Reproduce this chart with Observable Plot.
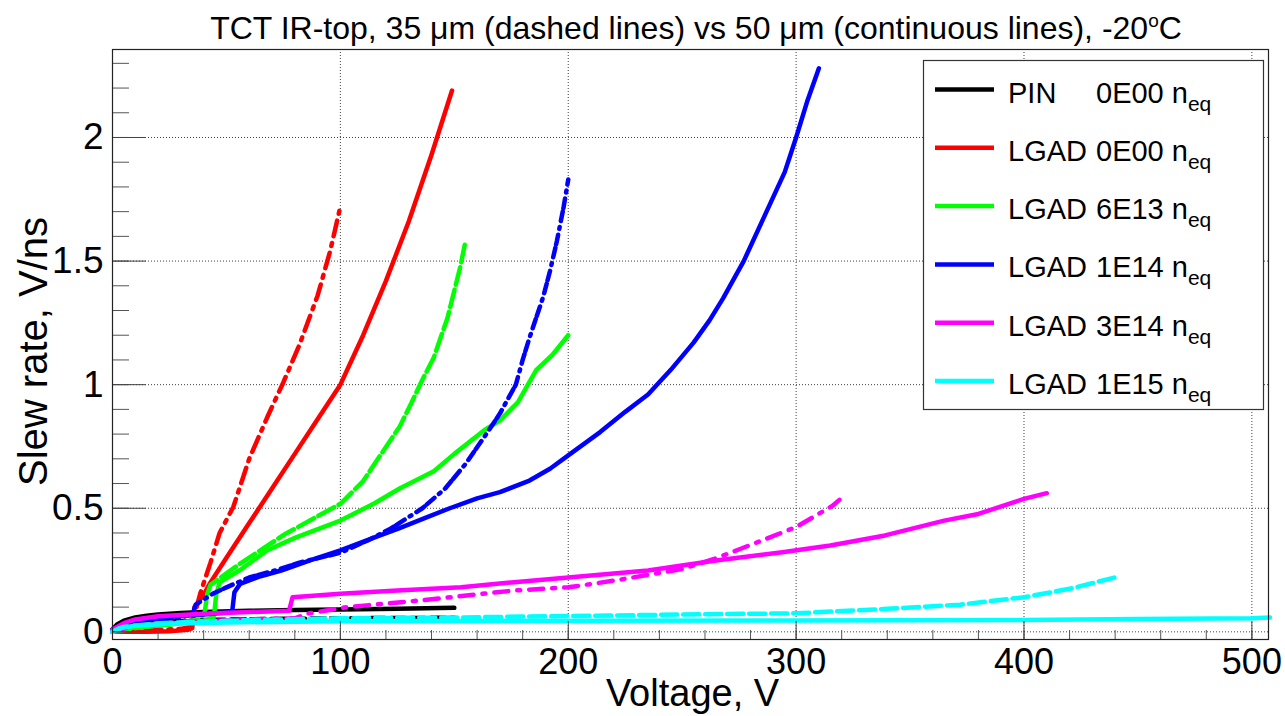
<!DOCTYPE html>
<html><head><meta charset="utf-8">
<script src="https://cdn.jsdelivr.net/npm/d3@7"></script>
<script src="https://cdn.jsdelivr.net/npm/@observablehq/plot@0.6"></script>
<style>
body{margin:0;background:#fff;}
#wrap{position:relative;width:1285px;height:716px;font-family:"Liberation Sans",Arial,Helvetica,sans-serif;}
#title{position:absolute;left:118px;width:1156px;top:3px;line-height:36px;text-align:center;font-size:32px;color:#000;white-space:nowrap;}
#title sup{font-size:19px;}
#legend{position:absolute;left:0;top:0;pointer-events:none;}
</style></head><body>
<div id="wrap"><div id="title">TCT IR-top, 35 μm (dashed lines) vs 50 μm (continuous lines), -20<sup>o</sup>C</div></div>
<script>
// ---------------- data (V, slew rate V/ns) ----------------
const pin50 = [[0,0.01],[2,0.03],[5,0.045],[10,0.058],[15,0.065],[20,0.07],[30,0.076],[40,0.08],[60,0.085],[80,0.088],[100,0.09],[125,0.093],[150,0.097]];
const pin35 = [[0,0],[5,0.02],[10,0.03],[20,0.04],[40,0.048],[70,0.052],[100,0.055],[150,0.057]];
const lgad0_50 = [[0,0.003],[5,0.0],[15,0.0],[25,0.002],[33,0.008],[35,0.015],[36,0.1],[40,0.15],[43,0.2],[50,0.3],[60,0.44],[70,0.58],[80,0.72],[90,0.86],[100,1.0],[110,1.2],[120,1.42],[130,1.66],[140,1.93],[149,2.19]];
const lgad0_35 = [[0,0],[10,0.005],[20,0.008],[30,0.012],[34,0.02],[35.5,0.05],[38.5,0.155],[43,0.28],[47,0.4],[53,0.505],[60,0.7],[68,0.87],[75,1.01],[82,1.16],[90,1.36],[95.5,1.54],[100,1.72]];
const lgad6e13_50 = [[0,0.005],[10,0.02],[25,0.03],[40,0.045],[44.5,0.06],[45.5,0.15],[47,0.2],[56,0.25],[68,0.33],[80,0.38],[100,0.45],[115,0.52],[126,0.58],[141,0.65],[150,0.72],[163,0.815],[170,0.855],[178,0.93],[186,1.06],[193,1.12],[200,1.2]];
const lgad6e13_35 = [[0,0],[10,0.015],[25,0.03],[38,0.05],[40.5,0.08],[41.5,0.15],[43,0.19],[56,0.276],[76,0.397],[100,0.518],[110,0.61],[117,0.707],[126,0.83],[131,0.923],[136,1.02],[141,1.11],[147,1.27],[152.6,1.476],[155,1.585]];
const lgad1e14_50 = [[0,0.01],[5,0.03],[10,0.04],[20,0.055],[30,0.065],[40,0.07],[52.5,0.08],[53.5,0.16],[56,0.194],[65,0.225],[74,0.248],[87,0.29],[100,0.33],[113,0.375],[126,0.42],[137,0.46],[148,0.5],[160,0.54],[170,0.565],[183,0.612],[192,0.66],[200,0.714],[214,0.808],[225,0.89],[235,0.96],[245,1.06],[255,1.17],[262,1.26],[268,1.35],[277,1.5],[286,1.68],[295,1.86],[300,2.0],[305,2.15],[310,2.28]];
const lgad1e14_35 = [[0,0.005],[10,0.03],[20,0.045],[30,0.06],[35,0.07],[36.5,0.11],[44,0.154],[50,0.18],[60,0.22],[72,0.25],[82,0.28],[100,0.32],[112,0.37],[122,0.417],[136,0.5],[146,0.58],[155,0.68],[164,0.8],[170,0.883],[177,1.0],[180,1.1],[183,1.19],[189,1.355],[192,1.46],[195,1.58],[198,1.72],[200,1.83]];
const lgad3e14_50 = [[0,0.01],[5,0.035],[10,0.05],[20,0.063],[40,0.073],[60,0.08],[77.5,0.085],[79,0.14],[100,0.154],[125,0.167],[153,0.18],[175,0.2],[200,0.22],[235,0.248],[264,0.288],[294,0.322],[315,0.349],[339,0.39],[365,0.45],[380,0.477],[400,0.538],[410,0.561]];
const lgad3e14_35 = [[0,0],[10,0.025],[30,0.04],[60,0.05],[80,0.055],[83,0.065],[85,0.073],[103,0.1],[135,0.127],[176,0.167],[200,0.18],[220,0.207],[250,0.254],[264,0.295],[274,0.33],[300,0.424],[316,0.51],[319,0.534]];
const lgad1e15_50 = [[0,0],[3,0.015],[10,0.025],[25,0.033],[50,0.038],[100,0.043],[200,0.045],[300,0.046],[400,0.048],[450,0.052],[500,0.055],[508,0.058]];
const lgad1e15_35 = [[0,0],[5,0.02],[20,0.035],[50,0.045],[100,0.055],[150,0.058],[200,0.064],[250,0.07],[300,0.075],[340,0.093],[372,0.11],[400,0.14],[420,0.174],[440,0.22]];

const seriesColors = ["#000000","#ff0000","#00ff00","#0000ff","#ff00ff","#00ffff"];
const legendNames = ["PIN","LGAD","LGAD","LGAD","LGAD","LGAD"];
const legendFluence = ["0E00","0E00","6E13","1E14","3E14","1E15"];
const solidSeries = [pin50, lgad0_50, lgad6e13_50, lgad1e14_50, lgad3e14_50, lgad1e15_50];
const dashedSeries = [pin35, lgad0_35, lgad6e13_35, lgad1e14_35, lgad3e14_35, lgad1e15_35];
const dashPatterns = ["14,6","16,7,3,7","18,5","10,3,10,6,2,6","14,9,3,9","16,6"];

const xMajor = [0,100,200,300,400,500];
const xMinor = d3.range(0, 508, 20);
const yMajor = [0,0.5,1,1.5,2];
const yMinor = d3.range(0, 2.35, 0.1);

const xLabel = "Voltage, V";
const yLabel = "Slew rate, V/ns";

// ---------------- plot ----------------
const lineMarks = [];
seriesColors.forEach((c, i) => {
  lineMarks.push(Plot.line(solidSeries[i], {x: d => d[0], y: d => d[1], stroke: c, strokeWidth: 4.5}));
  lineMarks.push(Plot.line(dashedSeries[i], {x: d => d[0], y: d => d[1], stroke: c, strokeWidth: 4.5, strokeDasharray: dashPatterns[i]}));
});

const gridStyle = {stroke: "#000", strokeOpacity: 0.75, strokeDasharray: "1,2", strokeWidth: 1};
const plot = Plot.plot({
  width: 1285, height: 716,
  marginLeft: 112, marginRight: 17, marginTop: 49, marginBottom: 77,
  x: {domain: [0, 507.3]},
  y: {domain: [-0.031, 2.356]},
  style: {fontFamily: '"Liberation Sans", Arial, Helvetica, sans-serif', background: "transparent", color: "#000"},
  marks: [
    Plot.gridX(xMajor.slice(1), gridStyle),
    Plot.gridY(yMajor, gridStyle),
    ...lineMarks,
    Plot.axisX({ticks: xMinor, tickSize: -9, text: null, label: null, stroke: "#555"}),
    Plot.axisX({ticks: xMajor, tickSize: -18, text: null, label: null, stroke: "#444"}),
    Plot.axisX({ticks: xMajor, tickSize: 0, tickPadding: 9, fontSize: 36, label: null, tickFormat: d => String(d)}),
    Plot.axisY({ticks: yMinor, tickSize: -17, text: null, label: null, stroke: "#555"}),
    Plot.axisY({ticks: yMajor, tickSize: 0, tickPadding: 9, fontSize: 37, label: null, tickFormat: d => String(d)}),
    Plot.axisY({ticks: yMajor, tickSize: -34, text: null, label: null, stroke: "#444"}),
    Plot.text([xLabel], {frameAnchor: "bottom", lineAnchor: "middle", textAnchor: "middle", dy: 54, dx: 2, fontSize: 38, text: d => d}),
    Plot.text([yLabel], {frameAnchor: "left", lineAnchor: "middle", textAnchor: "middle", rotate: -90, dx: -78, dy: 7, fontSize: 40, text: d => d}),
    Plot.frame({stroke: "#222", strokeWidth: 1.2})
  ]
});
const wrap = document.getElementById("wrap");
plot.style.position = "absolute"; plot.style.left = "0"; plot.style.top = "0";
wrap.insertBefore(plot, wrap.firstChild);

// ---------------- legend ----------------
const leg = d3.select(wrap).append("svg").attr("id","legend").attr("width",1285).attr("height",716)
  .style("font-family",'"Liberation Sans", Arial, Helvetica, sans-serif');
leg.append("rect").attr("x",923.5).attr("y",60.5).attr("width",340).attr("height",349)
  .attr("fill","#fff").attr("stroke","#333").attr("stroke-width",1.2);
seriesColors.forEach((c,i) => {
  const cy = 89.5 + i*58.3;
  leg.append("line").attr("x1",935).attr("x2",994).attr("y1",cy).attr("y2",cy).attr("stroke",c).attr("stroke-width",4.5);
  leg.append("text").attr("x",1008).attr("y",cy+13).attr("font-size",29).text(legendNames[i]);
  const t = leg.append("text").attr("x",1096).attr("y",cy+13).attr("font-size",29);
  t.append("tspan").text(legendFluence[i] + " n");
  t.append("tspan").attr("dy",8).attr("font-size",21).text("eq");
});
</script>
</body></html>
